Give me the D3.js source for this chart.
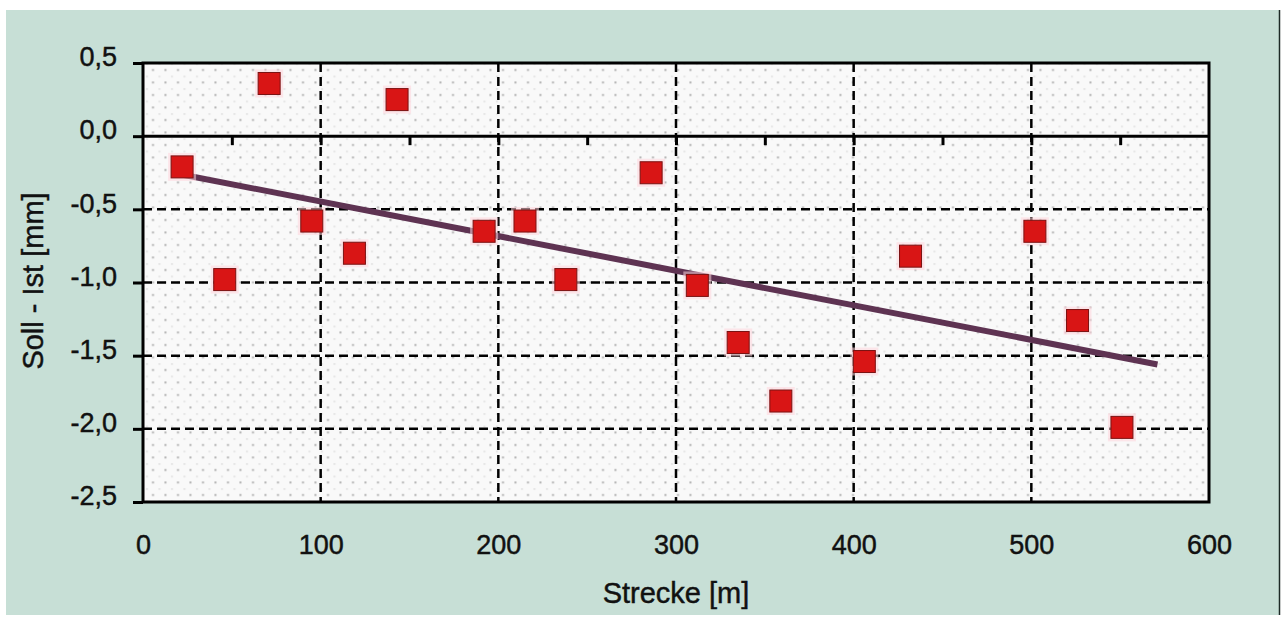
<!DOCTYPE html>
<html>
<head>
<meta charset="utf-8">
<script src="https://cdn.jsdelivr.net/npm/d3@7"></script>
<style>
  body { margin: 0; background: #fff; }
  svg { display: block; }
  text { font-family: "Liberation Sans", Arial, sans-serif; fill: #111; stroke: #111; stroke-width: 0.45px; }
</style>
</head>
<body>
<div id="chart"></div>
<script>
document.addEventListener('DOMContentLoaded', init, false);

// measured points (Strecke in m, Soll - Ist in mm)
var distances = [22, 46, 71, 95, 119, 143, 192, 215, 238, 286, 312, 335, 359, 406, 432, 502, 526, 551];
var deviations = [-0.21, -0.98, 0.36, -0.58, -0.80, 0.25, -0.65, -0.58, -0.98, -0.25, -1.02, -1.41, -1.81, -1.54, -0.82, -0.65, -1.26, -1.99];

// linear trend, start and end
var trendX = [21, 571];
var trendY = [-0.26, -1.56];

var xTicks = [0, 100, 200, 300, 400, 500, 600];
var yTicks = [0.5, 0, -0.5, -1, -1.5, -2, -2.5];
var xGrid = [100, 200, 300, 400, 500];
var yGrid = [-0.5, -1, -1.5, -2];
var axisTicks = [50, 100, 150, 200, 250, 300, 350, 400, 450, 500, 550];

var width = 1281;
var height = 618;
var plot = { left: 143, right: 1209, top: 63, bottom: 502 };

function init() {

  var svg = d3.select('#chart')
    .append('svg')
      .attr('width', width)
      .attr('height', height);

  // outer panel
  svg.append('rect')
    .attr('x', 6).attr('y', 10)
    .attr('width', 1273).attr('height', 605)
    .attr('fill', '#c7dfd6');
  svg.append('line')
    .attr('x1', 1279.5).attr('x2', 1279.5)
    .attr('y1', 10).attr('y2', 615)
    .attr('stroke', '#1d2a26').attr('stroke-width', 1.5);

  var x = d3.scaleLinear().domain([0, 600]).range([plot.left, plot.right]);
  var y = d3.scaleLinear().domain([-2.5, 0.5]).range([plot.bottom, plot.top]);

  // dotted plot background
  var defs = svg.append('defs');
  var pat = defs.append('pattern')
    .attr('id', 'dots')
    .attr('patternUnits', 'userSpaceOnUse')
    .attr('x', plot.left).attr('y', plot.top)
    .attr('width', 12.5).attr('height', 12.5);
  pat.append('rect').attr('width', 12.5).attr('height', 12.5).attr('fill', '#f9f9f9');
  pat.append('rect').attr('x', 9).attr('y', 6).attr('width', 2).attr('height', 2).attr('fill', '#b2b2b2');
  pat.append('rect').attr('x', 3).attr('y', 0).attr('width', 2).attr('height', 2).attr('fill', '#e6e6e6');

  svg.append('rect')
    .attr('x', plot.left).attr('y', plot.top)
    .attr('width', plot.right - plot.left)
    .attr('height', plot.bottom - plot.top)
    .attr('fill', 'url(#dots)');

  // dashed gridlines
  svg.append('g').selectAll('line')
      .data(xGrid)
      .enter()
    .append('line')
      .attr('x1', function (d) { return x(d); })
      .attr('x2', function (d) { return x(d); })
      .attr('y1', plot.top).attr('y2', plot.bottom)
      .attr('stroke', '#000').attr('stroke-width', 2.5)
      .attr('stroke-dasharray', '9,5');

  svg.append('g').selectAll('line')
      .data(yGrid)
      .enter()
    .append('line')
      .attr('y1', function (d) { return y(d); })
      .attr('y2', function (d) { return y(d); })
      .attr('x1', plot.left).attr('x2', plot.right)
      .attr('stroke', '#000').attr('stroke-width', 2.5)
      .attr('stroke-dasharray', '9,5');

  // x axis line crossing at 0 with small ticks
  var zeroAxis = svg.append('g')
    .attr('transform', 'translate(0,' + y(0) + ')')
    .call(d3.axisBottom(x).tickValues(axisTicks).tickSize(9).tickFormat(''));
  zeroAxis.select('.domain').remove();
  zeroAxis.selectAll('.tick line').attr('stroke', '#000').attr('stroke-width', 3);
  svg.append('line')
    .attr('x1', plot.left).attr('x2', plot.right)
    .attr('y1', y(0)).attr('y2', y(0))
    .attr('stroke', '#000').attr('stroke-width', 3);

  // trend line
  var trend = trendX.map(function (d, i) { return [d, trendY[i]]; });
  var line = d3.line()
    .x(function (d) { return x(d[0]); })
    .y(function (d) { return y(d[1]); });
  svg.append('path')
    .datum(trend)
    .attr('d', line)
    .attr('fill', 'none')
    .attr('stroke', '#5e3352')
    .attr('stroke-width', 6);

  // markers
  var pts = distances.map(function (d, i) { return { x: d, y: deviations[i] }; });
  var marks = svg.append('g').selectAll('g')
      .data(pts)
      .enter()
    .append('g')
      .attr('transform', function (d) { return 'translate(' + x(d.x) + ',' + y(d.y) + ')'; });
  marks.append('rect')
    .attr('x', -14).attr('y', -14).attr('width', 28).attr('height', 28)
    .attr('fill', '#ffd6dc').attr('opacity', 0.55);
  marks.append('rect')
    .attr('x', -11).attr('y', -11).attr('width', 22).attr('height', 22)
    .attr('fill', '#d91515')
    .attr('stroke', '#7a1212').attr('stroke-width', 1);

  // plot border
  svg.append('rect')
    .attr('x', plot.left).attr('y', plot.top)
    .attr('width', plot.right - plot.left)
    .attr('height', plot.bottom - plot.top)
    .attr('fill', 'none')
    .attr('stroke', '#000').attr('stroke-width', 3);

  // y axis labels
  var yAxis = svg.append('g')
    .attr('transform', 'translate(' + plot.left + ',0)')
    .call(d3.axisLeft(y).tickValues(yTicks).tickSize(10).tickPadding(16)
      .tickFormat(function (d) { return d3.format('.1f')(d).replace('.', ',').replace('−', '-'); }));
  yAxis.select('.domain').remove();
  yAxis.selectAll('.tick line').attr('stroke', '#000').attr('stroke-width', 3);
  yAxis.selectAll('.tick text')
    .attr('font-family', '"Liberation Sans", Arial, sans-serif')
    .attr('font-size', 27).attr('fill', '#111').attr('dy', '0.1em');

  // x axis labels
  var xAxis = svg.append('g')
    .attr('transform', 'translate(0,' + plot.bottom + ')')
    .call(d3.axisBottom(x).tickValues(xTicks).tickSize(0).tickPadding(33));
  xAxis.select('.domain').remove();
  xAxis.selectAll('.tick text')
    .attr('font-family', '"Liberation Sans", Arial, sans-serif')
    .attr('font-size', 27).attr('fill', '#111');

  // axis titles
  svg.append('text')
    .attr('x', 676).attr('y', 603)
    .attr('text-anchor', 'middle')
    .attr('font-size', 29)
    .text('Strecke [m]');

  svg.append('text')
    .attr('transform', 'translate(43,281) rotate(-90)')
    .attr('text-anchor', 'middle')
    .attr('font-size', 29)
    .text('Soll - Ist [mm]');
}
</script>
</body>
</html>
